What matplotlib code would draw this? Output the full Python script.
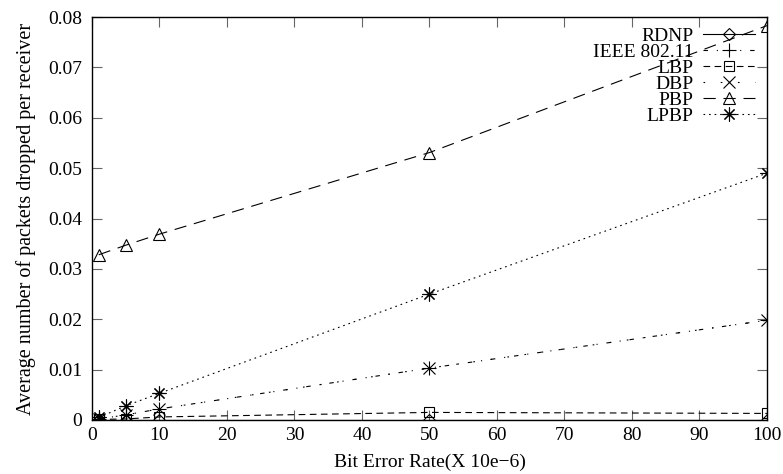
import matplotlib
matplotlib.use("Agg")
import matplotlib.pyplot as plt

plt.rcParams["font.family"] = ["Liberation Serif", "DejaVu Serif"]

ber = [1, 5, 10, 50, 100]
rdnp = [0.0, 0.0, 0.0, 0.0, 0.0]
ieee = [0.0002, 0.0010, 0.0022, 0.0103, 0.0198]
lbp = [0.0001, 0.0002, 0.0006, 0.0015, 0.0013]
dbp = [0.0002, 0.0010, 0.0022, 0.0103, 0.0198]
pbp = [0.0328, 0.0347, 0.0369, 0.0531, 0.0783]
lpbp = [0.0005, 0.0028, 0.0053, 0.0250, 0.0490]

xticks = list(range(0, 101, 10))
yticks = [0, 0.01, 0.02, 0.03, 0.04, 0.05, 0.06, 0.07, 0.08]
ytick_labels = ["0", "0.01", "0.02", "0.03", "0.04", "0.05", "0.06", "0.07", "0.08"]

fig = plt.figure(figsize=(7.83, 4.74), dpi=100)
ax = fig.add_axes([0.1175, 0.114, 0.862, 0.850])

base = dict(color="black", lw=0.8, fillstyle="none", markeredgewidth=0.8)
ax.plot(ber, rdnp, ls="-", marker="D", markersize=6.5, label="RDNP", **base)
ax.plot(ber, ieee, ls=(0, (4, 8, 1, 8)), marker="+", markersize=10, label="IEEE 802.11", **base)
ax.plot(ber, lbp, ls=(0, (6, 4)), marker="s", markersize=7.5, label="LBP", **base)
ax.plot(ber, dbp, ls=(0, (1.5, 14)), marker="x", markersize=8, label="DBP", **base)
ax.plot(ber, pbp, ls=(0, (11, 7)), marker="^", markersize=9, label="PBP", **base)
ax.plot(ber, lpbp, ls=(0, (1.5, 3.5)), marker=(8, 2, 0), markersize=10, label="LPBP", **base)

ax.set_xlim(0, 100)
ax.set_ylim(0, 0.08)
ax.set_xticks(xticks)
ax.set_xticklabels([str(t) for t in xticks])
ax.set_yticks(yticks)
ax.set_yticklabels(ytick_labels)
ax.tick_params(direction="in", top=True, right=True, labelsize=14, length=7,
               color="#666666")
ax.tick_params(axis="y", pad=7)
ax.tick_params(axis="x", pad=5)
for sp in ax.spines.values():
    sp.set_linewidth(1.0)

ax.set_xlabel("Bit Error Rate(X 10e\u22126)", fontsize=14, labelpad=7)
ax.set_ylabel("Average number of packets dropped per receiver", fontsize=14.5, labelpad=9)

ax.legend(loc="upper right", frameon=False, markerfirst=False, fontsize=14,
          handlelength=2.7, handletextpad=0.5, labelspacing=-0.08,
          borderaxespad=0.0, borderpad=0.0, bbox_to_anchor=(0.983, 0.975))

fig.savefig("out.png", dpi=100)
